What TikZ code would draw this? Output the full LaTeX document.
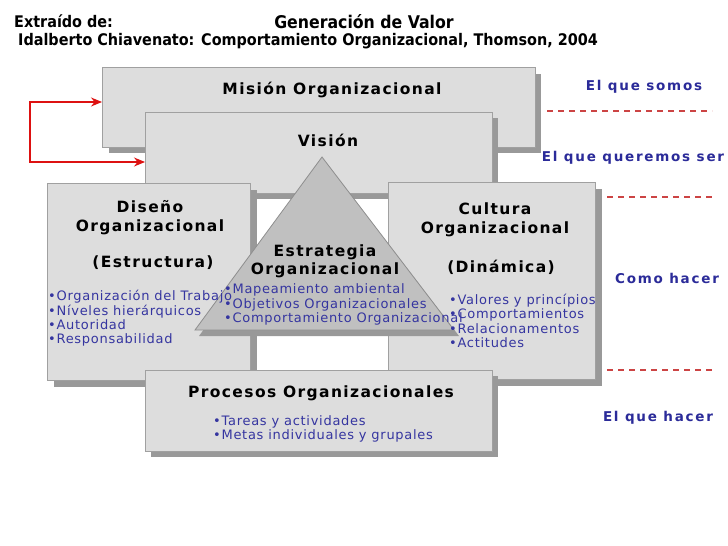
\documentclass[tikz,border=0pt]{standalone}
\usepackage{fontspec}
\setmainfont{DejaVu Sans}
\newfontfamily\titlefont{DejaVu Sans Condensed}
\newfontfamily\hdfont{DejaVu Sans}[LetterSpace=9]
\newfontfamily\lblfont{DejaVu Sans}[LetterSpace=13]
\newfontfamily\lsfont{DejaVu Sans}[LetterSpace=5.5]
\usetikzlibrary{arrows.meta}
\definecolor{boxfill}{HTML}{DDDDDD}
\definecolor{boxline}{HTML}{A0A0A0}
\definecolor{shadowc}{HTML}{999999}
\definecolor{trifill}{HTML}{C0C0C0}
\definecolor{triline}{HTML}{8E8E8E}
\definecolor{listblue}{HTML}{3535A0}
\definecolor{lblblue}{HTML}{2B2B99}
\definecolor{dashred}{HTML}{CC4444}
\definecolor{arrred}{HTML}{DD1111}
\tikzset{
  panel/.style={fill=boxfill,draw=boxline,line width=0.8pt},
  shade/.style={fill=shadowc,draw=none},
  hd/.style={font=\hdfont\bfseries\fontsize{15.5}{19}\selectfont,inner sep=0pt,align=center},
  lst/.style={font=\lsfont\fontsize{13}{14.3}\selectfont,text=listblue,inner sep=0pt,align=left,anchor=west},
  lbl/.style={font=\lblfont\bfseries\fontsize{13.5}{14}\selectfont,text=lblblue,inner sep=0pt},
  ttl/.style={font=\titlefont\bfseries\fontsize{16}{18}\selectfont,inner sep=0pt},
  sep/.style={dashred,line width=1.1pt,dash pattern=on 6pt off 5pt},
  loop/.style={arrred,line width=1.1pt,{Stealth[length=11pt,width=9pt]}-{Stealth[length=11pt,width=9pt]}}
}
\begin{document}
\begin{tikzpicture}[x=1pt,y=-1pt]
\useasboundingbox (0,0) rectangle (728,546);
\fill[white] (0,0) rectangle (728,546);
% Mision
\fill[shade] (109,74) rectangle (541,153);
\draw[panel] (102,67) rectangle (535,147);
\coordinate (misW) at (102,102);
% Vision
\fill[shade] (151,118) rectangle (498,199);
\draw[panel] (145,112) rectangle (492,193);
\coordinate (visW) at (145,162);
% Diseno
\fill[shade] (54,190) rectangle (257,387);
\draw[panel] (47,183) rectangle (250,380);
% Cultura
\fill[shade] (395,189) rectangle (602,386);
\draw[panel] (388,182) rectangle (595,379);
% Procesos
\fill[shade] (151,376) rectangle (498,457);
\draw[panel] (145,370) rectangle (492,451);
% triangle
\fill[shade] (326,163) -- (459,336) -- (199,336) -- cycle;
\draw[fill=trifill,draw=triline,line width=0.8pt] (322,157) -- (454,330) -- (195,330) -- cycle;
% loop arrow
\coordinate (lt) at (30,102);
\coordinate (lb) at (30,162);
\draw[loop] (misW) -- (lt) -- (lb) -- (visW);
% titles
\node[ttl,anchor=west] (t1) at (14,21) {Extraído de:};
\node[ttl,font=\titlefont\bfseries\fontsize{17.5}{18}\selectfont] (t2) at (364,22) {Generación de Valor};
\node[ttl,anchor=west] (t3) at (18,41) {Idalberto Chiavenato: Comportamiento Organizacional, Thomson, 2004};
% headings
\node[hd] (hmis) at (332,90) {Misión Organizacional};
\node[hd] (hvis) at (328,140) {Visión};
\node[hd] (hdis) at (150,218) {Diseño\\Organizacional};
\node[hd] (hest) at (153,263) {(Estructura)};
\node[hd] (hcul) at (495,220) {Cultura\\Organizacional};
\node[hd] (hdin) at (501,267) {(Dinámica)};
\node[hd,font=\hdfont\bfseries\fontsize{15.5}{18}\selectfont] (hstr) at (325,261) {Estrategia\\Organizacional};
\node[hd] (hpro) at (321,393) {Procesos Organizacionales};
% lists
\node[lst] (ldis) at (48,318.5) {•Organización del Trabajo\\•Níveles hierárquicos\\•Autoridad\\•Responsabilidad};
\node[lst] (lstr) at (224,304.5) {•Mapeamiento ambiental\\•Objetivos Organizacionales\\•Comportamiento Organizacional};
\node[lst] (lcul) at (449,321) {•Valores y princípios\\•Comportamientos\\•Relacionamentos\\•Actitudes};
\node[lst] (lpro) at (213,429) {•Tareas y actividades\\•Metas individuales y grupales};
% right labels
\node[lbl] (r1) at (644,87) {El que somos};
\node[lbl] (r2) at (633,158) {El que queremos ser};
\node[lbl] (r3) at (667,278) {Como hacer};
\node[lbl] (r4) at (658,418) {El que hacer};
\coordinate (d1a) at (547,111); \coordinate (d1b) at (712,111);
\coordinate (d2a) at (607,197); \coordinate (d2b) at (712,197);
\coordinate (d3a) at (607,370); \coordinate (d3b) at (712,370);
\draw[sep] (d1a) -- (d1b);
\draw[sep] (d2a) -- (d2b);
\draw[sep] (d3a) -- (d3b);
\end{tikzpicture}
\end{document}
